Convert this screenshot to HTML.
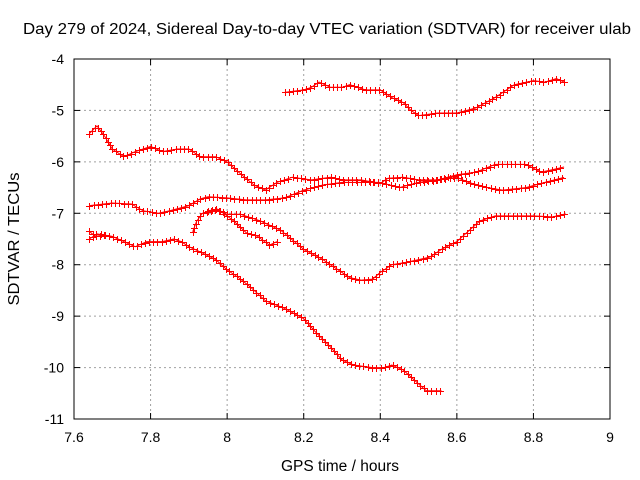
<!DOCTYPE html>
<html><head><meta charset="utf-8"><style>
body{margin:0;background:#fff}
svg{display:block;font-family:"Liberation Sans",sans-serif}
</style></head><body>
<svg id="chart" width="640" height="480">
<rect width="640" height="480" fill="#fff"/>
<text x="327" y="34" font-size="15.5" text-anchor="middle" textLength="608" lengthAdjust="spacingAndGlyphs">Day 279 of 2024, Sidereal Day-to-day VTEC variation (SDTVAR) for receiver ulab</text>
<text x="340" y="471" font-size="15.5" text-anchor="middle">GPS time / hours</text>
<text transform="translate(19,239) rotate(-90)" font-size="15.5" text-anchor="middle" textLength="133" lengthAdjust="spacingAndGlyphs">SDTVAR / TECUs</text>
<g id="grid"></g><g id="ticks"></g><g id="series"></g>
<rect x="74" y="59" width="536" height="360" fill="none" stroke="#000" stroke-width="1"/>
</svg>
<script>
const xTicks=[7.6,7.8,8,8.2,8.4,8.6,8.8,9];
const xTickLabels=["7.6","7.8","8","8.2","8.4","8.6","8.8","9"];
const yTicks=[-4,-5,-6,-7,-8,-9,-10,-11];
const yTickLabels=["-4","-5","-6","-7","-8","-9","-10","-11"];
const trackA_x=[8.15,8.2,8.22,8.24,8.27,8.3,8.32,8.36,8.4,8.43,8.46,8.48,8.5,8.55,8.6,8.65,8.7,8.75,8.8,8.83,8.86,8.88];
const trackA_y=[-4.65,-4.6,-4.55,-4.45,-4.55,-4.55,-4.5,-4.6,-4.6,-4.75,-4.85,-5.0,-5.1,-5.05,-5.05,-4.95,-4.75,-4.5,-4.42,-4.45,-4.38,-4.45];
const trackB_x=[7.64,7.66,7.68,7.7,7.73,7.76,7.8,7.83,7.87,7.9,7.93,7.97,8.0,8.03,8.07,8.1,8.13,8.17,8.22,8.27,8.3,8.35,8.4,8.42,8.46,8.5,8.55,8.6,8.65,8.7,8.75,8.78,8.82,8.85,8.88];
const trackB_y=[-5.45,-5.3,-5.5,-5.75,-5.9,-5.8,-5.7,-5.8,-5.75,-5.75,-5.9,-5.9,-6.0,-6.2,-6.45,-6.55,-6.4,-6.3,-6.35,-6.3,-6.35,-6.35,-6.42,-6.32,-6.3,-6.35,-6.35,-6.25,-6.2,-6.05,-6.05,-6.05,-6.2,-6.15,-6.1];
const trackC_x=[7.64,7.7,7.75,7.78,7.82,7.85,7.9,7.93,7.95,8.0,8.05,8.1,8.15,8.2,8.25,8.3,8.35,8.4,8.45,8.5,8.55,8.6,8.63,8.68,8.72,8.78,8.83,8.88];
const trackC_y=[-6.85,-6.8,-6.82,-6.95,-7.0,-6.95,-6.85,-6.72,-6.68,-6.7,-6.74,-6.74,-6.7,-6.55,-6.45,-6.4,-6.4,-6.4,-6.5,-6.4,-6.35,-6.3,-6.4,-6.5,-6.55,-6.5,-6.4,-6.3];
const trackD_x=[7.91,7.92,7.935,7.975,8.0,8.035,8.087,8.14,8.2,8.25,8.28,8.32,8.35,8.38,8.4,8.43,8.47,8.5,8.53,8.56,8.6,8.63,8.66,8.7,8.75,8.8,8.85,8.88];
const trackD_y=[-7.36,-7.16,-7.0,-6.93,-7.02,-7.02,-7.15,-7.33,-7.7,-7.9,-8.05,-8.25,-8.3,-8.28,-8.15,-8.0,-7.95,-7.9,-7.85,-7.7,-7.55,-7.35,-7.15,-7.05,-7.05,-7.05,-7.07,-7.02];
const trackE_x=[7.64,7.66,7.7,7.73,7.76,7.79,7.83,7.86,7.88,7.9,7.93,7.97,8.0,8.03,8.06,8.1,8.15,8.2,8.23,8.27,8.3,8.33,8.38,8.41,8.43,8.46,8.49,8.52,8.56];
const trackE_y=[-7.5,-7.4,-7.45,-7.55,-7.65,-7.55,-7.55,-7.5,-7.55,-7.65,-7.75,-7.9,-8.1,-8.25,-8.43,-8.7,-8.85,-9.05,-9.3,-9.6,-9.85,-9.95,-10.0,-10.0,-9.95,-10.05,-10.25,-10.45,-10.45];
const trackF_x=[7.64,7.655,7.68];
const trackF_y=[-7.35,-7.45,-7.42];
const trackG_x=[7.95,7.975,8.0,8.017,8.05,8.08,8.11,8.13];
const trackG_y=[-6.95,-6.92,-7.05,-7.15,-7.38,-7.45,-7.62,-7.55];

const NS="http://www.w3.org/2000/svg";
const X0=74,X1=610,Y0=59,Y1=419;
function sx(v){return X0+(v-7.6)/(9-7.6)*(X1-X0);}
function sy(v){return Y0+(-4-v)/7*(Y1-Y0);}
function mk(t,a,p){const e=document.createElementNS(NS,t);for(const k in a)e.setAttribute(k,a[k]);p.appendChild(e);return e;}
const grid=document.getElementById('grid'),ticks=document.getElementById('ticks'),ser=document.getElementById('series');
xTicks.forEach((v,i)=>{
  const x=sx(v);
  if(i>0&&i<xTicks.length-1){const g=mk('line',{x1:x,x2:x,y1:Y0,y2:Y1,stroke:'#a0a0a0','stroke-dasharray':'2,3'},grid);
  
  }
  mk('line',{x1:x,x2:x,y1:Y1,y2:Y1-6,stroke:'#000'},ticks);
  mk('line',{x1:x,x2:x,y1:Y0,y2:Y0+6,stroke:'#000'},ticks);
  const t=mk('text',{x:x,y:Y1+23,'font-size':'14','text-anchor':'middle'},ticks);
  t.textContent=xTickLabels[i];
  
  
});
yTicks.forEach((v,i)=>{
  const y=sy(v);
  if(i>0&&i<yTicks.length-1){const g=mk('line',{x1:X0,x2:X1,y1:y,y2:y,stroke:'#a0a0a0','stroke-dasharray':'2,3'},grid);
  
  }
  mk('line',{x1:X0,x2:X0+6,y1:y,y2:y,stroke:'#000'},ticks);
  mk('line',{x1:X1,x2:X1-6,y1:y,y2:y,stroke:'#000'},ticks);
  const t=mk('text',{x:X0-10,y:y+5,'font-size':'14','text-anchor':'end'},ticks);
  t.textContent=yTickLabels[i];
  
  
});
const tracks=[[trackA_x,trackA_y],[trackB_x,trackB_y],[trackC_x,trackC_y],[trackD_x,trackD_y],[trackE_x,trackE_y],[trackF_x,trackF_y],[trackG_x,trackG_y]];
tracks.forEach((tr,ti)=>{
  const g=mk('g',{},ser);
  
  
  const d=tr[0].map((v,i)=>(i?'L':'M')+sx(v).toFixed(1)+','+sy(tr[1][i]).toFixed(1)).join(' ');
  const p=mk('path',{d:d,fill:'none',stroke:'#ff0000','stroke-width':'1'},g);
  const L=p.getTotalLength();
  let s='';
  for(let l=0;l<=L;l+=4.3){const q=p.getPointAtLength(l);const x=Math.round(q.x)+0.5,y=Math.round(q.y)+0.5;s+=`M${x-3.5},${y}h7M${x},${y-3.5}v7`;}
  mk('path',{d:s,stroke:'#ff0000','stroke-width':'1',fill:'none','shape-rendering':'crispEdges'},g);
});
</script>
</body></html>
